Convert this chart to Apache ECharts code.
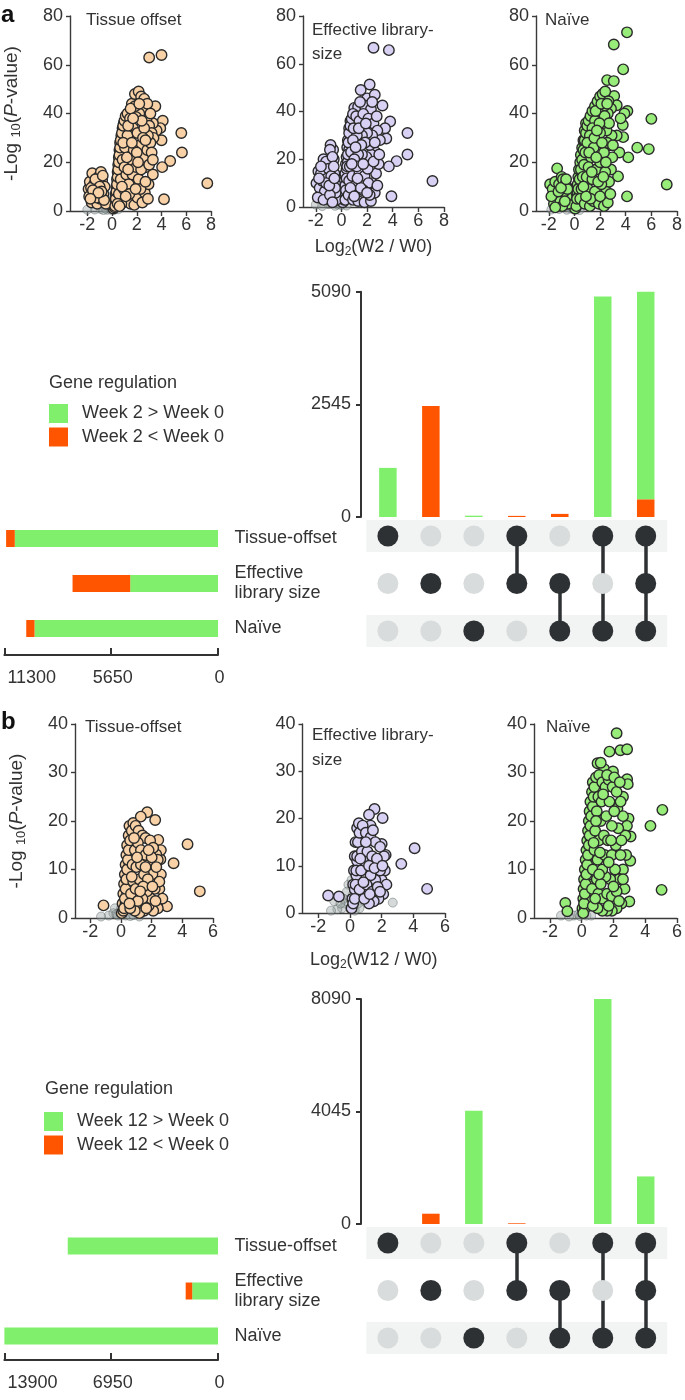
<!DOCTYPE html>
<html><head><meta charset="utf-8">
<script src="https://cdn.jsdelivr.net/npm/echarts@6/dist/echarts.min.js"></script>
<style>html,body{margin:0;padding:0;background:#fff}#c{width:685px;height:1400px}</style>
</head><body><div id="c"></div>
<script>
// ---------------- DATA ----------------
const setNames = ['Tissue-offset', 'Effective\nlibrary size', 'Naïve'];
const intersections = [[1,0,0],[0,1,0],[0,0,1],[1,1,0],[0,1,1],[1,0,1],[1,1,1]];
const interLabels = ['T','E','N','T+E','E+N','T+N','T+E+N'];
const upA_up   = [1110, 0, 30, 0, 0, 4980, 4690];
const upA_down = [0, 2505, 0, 25, 70, 0, 400];
const upB_up   = [0, 0, 4070, 0, 0, 8090, 1710];
const upB_down = [0, 370, 0, 25, 0, 0, 0];
const sizeA_up   = [10750, 4645, 9706];
const sizeA_down = [460, 3050, 439];
const sizeB_up   = [9778, 1677, 13900];
const sizeB_down = [0, 426, 0];
const upMaxA = 5090, upMaxB = 8090;
const sizeMaxA = 11300, sizeMaxB = 13900;
const volXTicksA = [-2, 0, 2, 4, 6, 8];
const volXTicksB = [-2, 0, 2, 4, 6];
const legendA = ['Week 2 > Week 0', 'Week 2 < Week 0'];
const legendB = ['Week 12 > Week 0', 'Week 12 < Week 0'];

const volA1 = [[3.0,63],[4.0,64],[3.5,43],[4.1,37],[5.6,32],[5.65,24],[4.7,20.5],[4.05,18],[4.2,4.8],[7.7,11.4],[3.9,34],[3.6,33],[3.3,36],[4.0,29],
[-1.9,9],[-1.85,6],[-1.8,12],[-1.6,15.5],[-1.45,11],[-1.3,8],[-1.1,14],[-0.9,16],[-0.8,12.5],[-0.7,7],[-1.65,3.5],[-1.2,3],[-0.6,10],[-1.7,9.5],[-1.35,13],[-0.75,14.5],[-0.95,5],[-1.5,6],[-0.5,3],[-1.0,10],[-1.25,5.5],[-0.65,4.5],[-1.55,8.5],[-0.85,8],[-1.1,7.5],[-1.75,5],
[0.25,2],[0.3,5],[0.35,8],[0.4,11],[0.45,14],[0.5,17],[0.55,20],[0.6,23],[0.65,26],[0.7,29],[0.8,32],[0.9,35],[1.0,37],[1.1,39],[1.25,40],[1.45,38],[1.6,44],[1.85,48],[2.15,49],[2.35,47],[2.6,46],[2.45,42],[2.8,38],[3.0,35],[3.2,32],[3.35,30],[2.2,40],[1.95,38.5],[1.7,34],[1.5,31],[1.25,31],[1.05,26],[0.85,21],[0.7,13],[0.55,7],[0.95,9],[1.2,4],[1.5,3],[1.8,2.5],[2.05,5.5],[2.45,3.5],[2.65,7.5],[2.95,11],[2.75,18],[2.55,22],[2.25,27],[2.05,32],[1.75,25],[1.45,21],[1.15,15],[1.35,11],[1.65,15],[1.95,18],[2.15,13],[2.35,17],[2.85,25],[3.1,28],[2.9,31],[2.6,34],[1.0,18],[0.75,3],[1.4,7],[2.3,9],[3.2,24],[3.3,15],[0.45,3],[1.9,9],[2.7,12],[3.0,19],[1.2,22],[2.5,30],[2.0,24],[1.85,43],[2.85,44],[1.5,42],[1.3,35],[2.4,37],[3.1,40],[0.9,28],[1.6,28],[2.1,20],[1.1,6],[0.6,2],[3.3,21],[2.9,5],[1.7,38],[2.7,29],[1.3,17],[0.8,10],[2.2,44]];
const edgeA1 = [[0.1,1],[0.15,3],[0.2,4],[0.3,7],[0.35,10],[0.4,13],[0.45,16],[0.5,19],[0.55,22],[0.6,25],[0.65,28],[0.75,31],[0.85,34],[0.95,36],[0.2,1.5],[0.3,2.5],[0.4,6],[0.5,9],[0.6,15],[0.7,20],[0.8,25],[0.9,30],[1.0,33],[1.15,36]];
const greyA1 = [[-0.6,1.5],[-0.3,2.5],[0,1],[0.2,0.5],[-0.9,0.8],[-1.4,0.6],[0.5,0.7],[-0.2,4],[0.1,3],[-0.4,0.5],[0.35,1.5],[-2.0,0.5],[-0.2,1.5],[0,2.2],[0.1,0.8],[-0.1,0.5],[-0.5,1],[-0.7,0.4],[0.05,4.5],[-0.05,6]];

const volA2 = [[2.5,66.7],[3.7,65.7],[3.2,42.5],[3.8,35.8],[5.15,31],[5.15,22],[4.3,19.2],[3.7,17],[3.9,4.5],[7.1,10.9],[3.5,28.7],[3.4,33],
[2.2,51.3],[1.5,49],[2.0,45.5],[2.6,47],[1.0,41.5],[1.3,42],[1.8,42.5],[2.3,41],
[-0.85,26],[-0.9,24],[-1.4,20],[-1.2,19],[-1.8,15],[-1.6,14],[-1.0,16],[-0.7,21],[-1.95,10],[-1.7,8],[-1.5,11],[-1.3,6.5],[-1.1,12],[-0.8,13],[-0.6,17],[-0.5,8],[-1.85,4],[-1.4,3],[-0.9,5],[-0.7,2],[-1.2,10],[-1.6,17],[-0.95,9],[-0.55,12],[-1.75,12],
[0.3,3],[0.35,7],[0.4,12],[0.45,17],[0.5,22],[0.55,27],[0.6,31],[0.7,34],[0.8,37],[0.9,39],[1.15,38],[1.4,36],[1.7,39],[2.1,37],[2.5,35],[2.8,32],[3.0,28],[2.4,30],[2.0,31],[1.6,30],[1.2,30],[0.9,28],[0.75,23],[0.65,17],[0.6,11],[0.55,5],[0.9,3],[1.3,2.5],[1.8,2],[2.3,2.5],[2.6,6],[2.4,10],[2.7,14],[2.9,18],[2.65,23],[2.3,22],[1.95,21],[1.6,22],[1.3,22],[1.0,20],[0.85,13],[1.1,9],[1.4,14],[1.8,13],[2.1,10],[1.7,7],[2.05,16],[2.5,19],[1.2,17],[1.5,8],[2.2,5],[2.8,9],[0.95,33],[1.35,33],[2.2,26],[1.85,27],[1.55,26],[2.6,27],[1.1,25],[0.7,8],[1.0,4.5],[2.75,38],[1.9,35],[1.45,44],[2.4,44],[0.8,18],[1.25,12],[2.0,6],[2.95,22],[1.7,18]];
const edgeA2 = [[0.1,2],[0.15,5],[0.2,8],[0.25,11],[0.3,14],[0.35,18],[0.4,21],[0.45,25],[0.5,28],[0.6,33],[0.7,36],[0.2,3],[0.3,9],[0.4,16],[0.5,19],[0.6,24],[0.7,28],[-0.4,3],[-0.45,6],[-0.5,10],[-0.55,14],[-0.6,20],[-0.65,24]];
const greyA2 = [[-0.3,1],[0,0.8],[0.2,2],[-0.5,0.5],[-1.0,1.2],[0.4,0.6],[-0.1,3],[-2.0,1.0],[-1.5,0.4],[0.1,5],[-0.2,6],[-0.2,1.5],[0.05,3.5],[-0.1,8],[0,10],[-0.3,4]];

const volA3 = [[3.07,68.3],[4.1,73.3],[3.8,58.1],[2.55,53.7],[3.07,53.3],[3.1,47.2],[3.3,43.4],[4.13,41],[3.77,35.3],[3.8,30.3],[4.9,26],[5.8,25.4],[6.0,37.8],[4.2,22],[3.4,14.2],[4.1,6],[7.2,10.9],[3.9,40],[3.6,38],[3.3,31],[3.5,24],
[-1.35,17.5],[-1.9,11],[-1.7,9],[-1.5,12],[-1.2,11],[-1.0,14],[-0.9,13],[-0.7,11],[-0.6,6],[-0.8,8],[-1.4,6],[-1.6,3],[-1.1,4],[-1.8,6],[-0.55,9],[-1.25,8],[-0.95,2],[-0.75,4],[-1.5,1.5],[-1.05,9.5],[-0.65,13],
[0.15,2],[0.2,5],[0.3,9],[0.4,13],[0.5,17],[0.6,21],[0.7,25],[0.8,29],[0.9,32],[1.0,35],[1.1,37],[1.25,39],[1.4,41],[1.6,43],[1.8,45],[2.0,47],[2.2,48],[2.4,49],[2.65,45],[2.85,42],[2.6,40],[2.3,43],[1.9,40],[1.6,37],[1.4,34],[1.2,31],[1.0,28],[0.85,24],[0.75,19],[0.65,14],[0.55,9],[0.45,5],[0.8,3],[1.2,2],[1.5,4],[1.9,3],[2.3,2],[2.6,3.5],[2.5,8],[2.7,12],[2.85,17],[2.95,22],[2.75,27],[2.9,31],[2.5,33],[2.2,36],[2.0,32],[1.8,28],[1.5,26],[1.3,22],[1.1,18],[0.95,14],[1.05,9],[1.4,13],[1.7,17],[2.0,20],[2.3,24],[2.55,28],[1.6,8],[2.1,11],[2.4,16],[1.85,12],[1.25,5],[2.0,6],[1.55,30],[1.15,24],[2.35,39],[2.7,36],[1.7,22],[2.15,28],[0.9,6],[1.35,16],[2.8,7],[1.95,36],[2.45,20],[1.65,41],[2.1,44],[2.55,44],[3.0,27],[0.7,10],[1.75,33],[2.25,14]];
const edgeA3 = [[0.05,1],[0.1,3],[0.15,6],[0.2,8],[0.25,11],[0.3,14],[0.35,17],[0.45,20],[0.5,23],[0.6,26],[0.7,29],[0.8,33],[0.9,36],[0.25,3],[0.35,6],[0.45,10],[0.55,14],[0.65,18],[0.75,22],[0.85,27],[-0.5,3],[-0.55,7],[-0.6,10]];
const greyA3 = [[-0.3,1],[0,0.5],[0.2,1.5],[-0.6,0.5],[-1.2,0.8],[0.4,0.4],[-0.1,2.5],[-1.8,0.6],[0.1,3.5],[-0.2,1.8],[0,2.5],[-0.4,2],[0.15,0.6]];

const volB1 = [[1.71,21.8],[2.23,20.2],[0.8,19.6],[1.29,20.9],[4.34,15.2],[3.43,11.3],[5.14,5.5],[3.0,2.4],[-1.14,2.6],[2.57,12.1],[2.43,16.1],[2.6,14],[2.3,13.1],
[0.2,2],[0.25,4],[0.3,6],[0.35,8],[0.4,10],[0.45,12],[0.5,14],[0.6,16],[0.7,18],[0.95,19],[1.15,18],[1.4,17],[1.6,16.5],[1.9,16],[2.1,14.5],[2.4,12],[2.6,9],[2.5,6],[2.7,4],[2.4,2],[2.1,1.5],[1.8,2.5],[1.5,1.5],[1.2,1],[0.9,1.5],[0.6,2],[0.65,5],[0.8,7.5],[0.75,11],[0.9,14],[1.1,15.5],[1.3,14],[1.6,13],[1.85,11],[2.05,9],[2.2,6],[1.95,4],[1.7,5.5],[1.4,4],[1.1,3.5],[0.95,6],[1.2,8],[1.5,9],[1.75,8],[2.3,10.5],[1.0,10.5],[1.3,11],[1.6,10.5],[2.0,12.5],[0.85,16.5],[1.45,6.5],[2.25,3.5],[1.05,12.5],[1.8,14],[2.5,7.5],[0.55,3],[1.65,2],[2.05,6.5],[0.7,8.5],[1.25,5.5]];
const edgeB1 = [[0.05,1],[0.1,3],[0.15,5],[0.2,7],[0.25,9],[0.3,11],[0.35,13],[0.4,15],[0.5,17],[0.55,19],[0.15,1.5],[0.3,3],[0.4,5],[0.5,8],[0.55,11]];
const greyB1 = [[-0.5,1],[-0.2,0.5],[0,2],[0.3,0.5],[-0.8,0.5],[0.6,0.4],[0.1,1],[-0.4,2],[1.2,0.3],[0.8,0.6],[-1.3,0.3],[-0.1,1.2],[0.2,1.5],[-0.3,0.8]];

const volB2 = [[1.55,22],[2.06,20.1],[0.56,19],[1.2,20.8],[4.08,13.7],[3.24,10.4],[4.87,5.1],[-1.38,3.7],[-0.7,3.5],[2.25,12.3],[2.0,14.6],[0.85,16.5],[1.83,11.4],[1.3,18.5],
[0.3,3],[0.35,6],[0.4,9],[0.45,12],[0.5,15],[0.6,17],[0.8,18.5],[1.0,17],[1.3,16],[1.6,15],[1.9,14],[2.15,12],[2.2,9],[2.0,7],[2.3,6],[2.1,4],[1.8,3],[1.5,2.5],[1.2,2],[0.9,3],[0.6,5],[0.7,9],[0.75,13],[0.95,11],[1.1,13],[1.4,12],[1.7,11.5],[1.9,9],[1.6,7],[1.3,8],[1.05,6],[1.4,4.5],[1.75,5.5],[0.85,6.5],[1.2,10],[1.55,9.5],[2.05,10],[1.0,15],[1.45,17.5],[0.65,11.5],[1.25,4],[1.9,4.5]];
const edgeB2 = [[0.1,1],[0.15,3],[0.2,6],[0.25,9],[0.3,12],[0.35,15],[0.45,18],[0.2,2],[0.3,5],[0.4,8],[0.45,11]];
const greyB2 = [[-0.3,2],[0,1],[0.2,4],[-0.1,6],[0.1,7],[-0.5,1],[-0.8,0.8],[0.3,0.5],[0.6,1],[-1.0,2.5],[2.7,2.2],[-1.2,0.5],[-0.2,4.5],[0.5,2],[-0.4,3],[0,3],[-0.6,2],[0.1,1.5]];

const volB3 = [[2.2,38.1],[1.75,34.3],[2.44,34.6],[2.86,34.8],[2.86,28.6],[2.9,27.6],[1.0,31.9],[1.42,30.7],[1.97,30.2],[5.08,22.3],[4.33,19],[5.03,5.8],[3.08,16.8],[3.06,11.8],[2.25,22.6],[-1.03,3.1],[-0.9,1.4],[3.0,3.4],[1.2,32],[2.6,25],[2.95,20.5],[2.85,19],
[0.1,1],[0.15,3],[0.2,5],[0.25,7],[0.3,9],[0.35,11],[0.4,13],[0.45,15],[0.5,17],[0.55,19],[0.6,21],[0.7,23],[0.75,25],[0.8,27],[0.9,29],[1.1,29.5],[1.3,28],[1.5,27],[1.7,28.5],[1.95,27],[2.2,26],[2.45,24],[2.6,21],[2.75,17],[2.8,13],[2.6,10],[2.7,6],[2.5,3],[2.2,2],[1.9,1.5],[1.6,1.5],[1.3,1.5],[1.0,2],[0.7,2.5],[0.65,6],[0.7,10],[0.8,14],[0.85,18],[0.95,22],[1.05,25],[1.25,24],[1.2,20],[1.1,16],[1.0,12],[0.95,8],[1.05,5],[1.3,4],[1.6,5],[1.9,4.5],[2.2,5.5],[2.35,8],[2.1,10],[1.8,8],[1.5,8.5],[1.3,10],[1.45,13],[1.4,17],[1.55,21],[1.75,24],[2.05,22],[2.3,18.5],[2.15,15],[1.9,13],[1.7,11.5],[1.65,16],[1.9,19],[2.45,13],[2.5,16],[2.0,6.5],[1.2,7],[0.85,4],[1.7,2.5],[2.35,3.5],[1.15,13.5],[0.75,15.5],[1.35,25.5],[1.6,29.5],[2.05,29],[2.4,28],[0.9,20],[2.6,8],[1.85,16],[1.1,9]];
const edgeB3 = [[0.05,2],[0.1,4],[0.12,6],[0.15,8],[0.2,10],[0.25,12],[0.3,14],[0.35,16],[0.4,18],[0.45,20],[0.5,22],[0.55,24],[0.65,26],[0.7,28],[0.2,2],[0.3,4],[0.4,7],[0.5,10],[0.55,13],[0.6,16]];
const greyB3 = [[-0.5,0.5],[-0.2,0.8],[0,1.5],[0.3,0.5],[-0.8,0.3],[0.6,0.5],[-1.3,0.5],[-0.1,0.4],[0.15,1]];

// ---------------- STYLE ----------------
const FONT = '"Liberation Sans", Arial, Helvetica, sans-serif';
const TXT = '#333';
const AX = '#3a3a3a';
const PEACH = '#f8d2a6', PURPLE = '#d9d1f3', LGREEN = '#98ec7a';
const GREEN = '#80ef6b', ORANGE = '#ff5500';
const DARK = '#2e3133', LIGHT = '#d9dcdc', BAND = '#f2f3f3';
const plain = v => String(v);

const grids = [
  {left:70, top:16, width:141, height:195},
  {left:303, top:16, width:141, height:191},
  {left:536, top:16, width:142, height:195},
  {left:366.4, top:291.7, width:300.8, height:225.3},
  {left:366.4, top:512.25, width:300.8, height:142.5},
  {left:4.4, top:516, width:213.6, height:135},
  {left:75, top:724, width:138, height:194},
  {left:302.5, top:724, width:142.5, height:189},
  {left:534, top:724, width:143, height:194},
  {left:366.4, top:999, width:300.8, height:225},
  {left:366.4, top:1219.25, width:300.8, height:142.5},
  {left:4.4, top:1223.5, width:213.6, height:135}
];
const xAxis = [], yAxis = [], series = [];
const yName = '-Log {s|10}({i|P}-value)';
const nameRich = {s:{fontSize:13, lineHeight:12, verticalAlign:'bottom', fontFamily:FONT, color:TXT},
                  i:{fontSize:19, fontStyle:'italic', fontFamily:FONT, color:TXT}};

function volcano(g, xmin, xmax, xt, ymax, yint, pts, edge, grey, color, opt) {
  opt = opt || {};
  const xa = {gridIndex:g, type:'value', min:xmin, max:xmax,
    axisLine:{show:true, onZero:false, lineStyle:{color:AX, width:1.4}},
    axisTick:{show:true, length:5, customValues:xt, lineStyle:{color:AX, width:1.4}},
    axisLabel:{customValues:xt, fontSize:18, color:TXT, margin:5, fontFamily:FONT},
    splitLine:{show:false}};
  if (opt.xname) {
    Object.assign(xa, {name:opt.xname, nameLocation:'middle', nameGap:opt.xgap,
      nameTextStyle:{fontSize:18, color:TXT, fontFamily:FONT, lineHeight:22,
        rich:{s:{fontSize:12, lineHeight:10, verticalAlign:'bottom', fontFamily:FONT, color:TXT}}}});
  }
  xAxis.push(xa);
  const ya = {gridIndex:g, type:'value', min:0, max:ymax, interval:yint,
    axisLine:{show:true, onZero:false, lineStyle:{color:AX, width:1.4}},
    axisTick:{show:true, length:4, lineStyle:{color:AX, width:1.4}},
    axisLabel:{fontSize:18, color:TXT, margin:7, fontFamily:FONT},
    splitLine:{show:false}};
  if (opt.yname) {
    Object.assign(ya, {name:yName, nameLocation:'middle', nameRotate:90, nameGap:opt.ygap,
      nameTextStyle:{fontSize:19, color:TXT, fontFamily:FONT, lineHeight:22, rich:nameRich}});
  }
  yAxis.push(ya);
  series.push({type:'scatter', xAxisIndex:g, yAxisIndex:g, data:grey, symbolSize:9, silent:true, z:2,
    itemStyle:{color:'rgba(150,160,160,0.5)', borderColor:'rgba(70,80,80,0.5)', borderWidth:1}});
  series.push({type:'scatter', xAxisIndex:g, yAxisIndex:g, data:edge.concat(pts), symbolSize:10.5, silent:true, z:3,
    itemStyle:{color:color, borderColor:'#2a2a2a', borderWidth:1.4, opacity:1}});
}

function upset(gb, gm, gs, up, down, upMax, sUp, sDown, sizeMax, names, offs) {
  xAxis.push({gridIndex:gb, type:'category', data:interLabels, show:false, boundaryGap:true});
  yAxis.push({gridIndex:gb, type:'value', min:0, max:upMax, interval:upMax/2, offset:5.4,
    axisLine:{show:true, lineStyle:{color:TXT, width:2}},
    axisTick:{show:true, length:5, lineStyle:{color:TXT, width:2}},
    axisLabel:{fontSize:18, color:TXT, margin:10, fontFamily:FONT, formatter:plain}, splitLine:{show:false}});
  series.push({type:'bar', name:names[1], xAxisIndex:gb, yAxisIndex:gb, stack:'u'+gb, data:down, barWidth:17.5, itemStyle:{color:ORANGE}, silent:true});
  series.push({type:'bar', name:names[0], xAxisIndex:gb, yAxisIndex:gb, stack:'u'+gb, data:up, barWidth:17.5, itemStyle:{color:GREEN}, silent:true});
  xAxis.push({gridIndex:gm, type:'value', min:-0.5, max:6.5, show:false});
  yAxis.push({gridIndex:gm, type:'value', min:-0.5, max:2.5, inverse:true, show:false});
  const on = [], off = [], links = [];
  intersections.forEach((m, c) => {
    const rows = [];
    m.forEach((v, r) => { (v ? on : off).push([c, r]); if (v) rows.push(r); });
    if (rows.length > 1) links.push({coords:[[c, Math.min(...rows)], [c, Math.max(...rows)]]});
  });
  series.push({type:'scatter', xAxisIndex:gm, yAxisIndex:gm, data:[], z:1, silent:true,
    markArea:{silent:true, itemStyle:{color:BAND, opacity:1}, data:[
      [{xAxis:-0.5, yAxis:-0.337}, {xAxis:6.5, yAxis:0.337}],
      [{xAxis:-0.5, yAxis:1.663}, {xAxis:6.5, yAxis:2.337}]]}});
  series.push({type:'lines', coordinateSystem:'cartesian2d', xAxisIndex:gm, yAxisIndex:gm, data:links, z:3, silent:true,
    lineStyle:{color:DARK, width:3.5, opacity:1}});
  series.push({type:'scatter', xAxisIndex:gm, yAxisIndex:gm, data:off, symbolSize:21, z:4, silent:true, itemStyle:{color:LIGHT, opacity:1}});
  series.push({type:'scatter', xAxisIndex:gm, yAxisIndex:gm, data:on, symbolSize:21, z:5, silent:true, itemStyle:{color:DARK, opacity:1}});
  xAxis.push({gridIndex:gs, type:'value', inverse:true, min:0, max:sizeMax, interval:sizeMax/2, position:'bottom', offset:offs,
    axisLine:{show:true, lineStyle:{color:TXT, width:2}},
    axisTick:{show:true, inside:true, length:7, lineStyle:{color:TXT, width:2}},
    axisLabel:{fontSize:18, color:TXT, margin:14, fontFamily:FONT, alignMaxLabel:'left', formatter:plain, padding:[0,0,0,3]}, splitLine:{show:false}});
  yAxis.push({gridIndex:gs, type:'category', data:setNames, inverse:true, position:'right',
    axisLine:{show:false}, axisTick:{show:false},
    axisLabel:{fontSize:18, color:TXT, margin:16.6, align:'left', lineHeight:20, fontFamily:FONT}});
  series.push({type:'bar', name:names[0], xAxisIndex:gs, yAxisIndex:gs, stack:'s'+gs, data:sUp, barWidth:17, itemStyle:{color:GREEN}, silent:true});
  series.push({type:'bar', name:names[1], xAxisIndex:gs, yAxisIndex:gs, stack:'s'+gs, data:sDown, barWidth:17, itemStyle:{color:ORANGE}, silent:true});
}

volcano(0, -3.4, 8, volXTicksA, 80, 20, volA1, edgeA1, greyA1, PEACH, {yname:true, ygap:47});
volcano(1, -3, 8, volXTicksA, 80, 20, volA2, edgeA2, greyA2, PURPLE, {xname:'Log{s|2}(W2 / W0)', xgap:29});
volcano(2, -3, 8, volXTicksA, 80, 20, volA3, edgeA3, greyA3, LGREEN);
upset(3, 4, 5, upA_up, upA_down, upMaxA, sizeA_up, sizeA_down, sizeMaxA, legendA, 4);
volcano(6, -3, 6, volXTicksB, 40, 10, volB1, edgeB1, greyB1, PEACH, {yname:true, ygap:47});
volcano(7, -3, 6, volXTicksB, 40, 10, volB2, edgeB2, greyB2, PURPLE, {xname:'Log{s|2}(W12 / W0)', xgap:36});
volcano(8, -3, 6, volXTicksB, 40, 10, volB3, edgeB3, greyB3, LGREEN);
upset(9, 10, 11, upB_up, upB_down, upMaxB, sizeB_up, sizeB_down, sizeMaxB, legendB, 1.5);

const tStyle = (fs, extra) => Object.assign({fontSize:fs, fontWeight:'normal', color:TXT, fontFamily:FONT}, extra || {});
const option = {
  animation:false,
  textStyle:{fontFamily:FONT},
  grid:grids,
  xAxis:xAxis, yAxis:yAxis, series:series,
  title:[
    {text:'a', left:1, top:3, padding:0, textStyle:tStyle(24, {fontWeight:'bold', color:'#111'})},
    {text:'Tissue offset', left:86, top:12, padding:0, textStyle:tStyle(17)},
    {text:'Effective library-\nsize', left:312, top:18, padding:0, textStyle:tStyle(17, {lineHeight:24})},
    {text:'Naïve', left:545, top:12, padding:0, textStyle:tStyle(17)},
    {text:'Gene regulation', left:49, top:374, padding:0, textStyle:tStyle(18)},
    {text:'b', left:1, top:710, padding:0, textStyle:tStyle(24, {fontWeight:'bold', color:'#111'})},
    {text:'Tissue-offset', left:85, top:719, padding:0, textStyle:tStyle(17)},
    {text:'Effective library-\nsize', left:312, top:723, padding:0, textStyle:tStyle(17, {lineHeight:25})},
    {text:'Naïve', left:546, top:719, padding:0, textStyle:tStyle(17)},
    {text:'Gene regulation', left:45, top:1080, padding:0, textStyle:tStyle(18)}
  ],
  legend:[
    {data:legendA, orient:'vertical', left:49, top:404, padding:0, itemWidth:19, itemHeight:19, itemGap:4.5,
     icon:'rect', selectedMode:false, textStyle:{fontSize:18, color:TXT, fontFamily:FONT, padding:[0,0,0,9]}},
    {data:legendB, orient:'vertical', left:44, top:1112, padding:0, itemWidth:19, itemHeight:19, itemGap:4.5,
     icon:'rect', selectedMode:false, textStyle:{fontSize:18, color:TXT, fontFamily:FONT, padding:[0,0,0,9]}}
  ]
};
const chart = echarts.init(document.getElementById('c'));
chart.setOption(option);
</script></body></html>
